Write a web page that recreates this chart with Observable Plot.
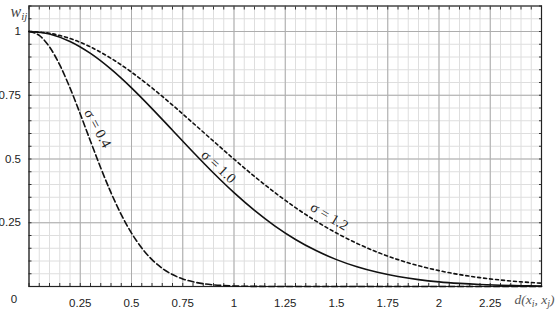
<!DOCTYPE html>
<html>
<head>
<meta charset="utf-8">
<script src="https://cdn.jsdelivr.net/npm/d3@7"></script>
<script src="https://cdn.jsdelivr.net/npm/@observablehq/plot@0.6"></script>
<style>
  html, body { margin: 0; padding: 0; background: #fff; }
  #chart { width: 556px; height: 316px; }
</style>
</head>
<body>
<div id="chart"></div>
<script>
// Distance values d(x_i, x_j)
const d04 = [0,0.05,0.1,0.15,0.2,0.25,0.3,0.35,0.4,0.45,0.5,0.55,0.6,0.65,0.7,0.75,0.8,0.85,0.9,0.95,1.0,1.1,1.2,1.4,1.8,2.2,2.5];
const w04 = [1,0.9845,0.9394,0.8688,0.7788,0.6766,0.5698,0.4650,0.3679,0.2821,0.2096,0.1510,0.1054,0.0713,0.0468,0.0297,0.0183,0.0109,0.0063,0.0036,0.0019,0.0005,0.0001,0,0,0,0];

const d10 = [0,0.1,0.2,0.3,0.4,0.5,0.6,0.7,0.8,0.9,1.0,1.1,1.2,1.3,1.4,1.5,1.6,1.7,1.8,1.9,2.0,2.1,2.2,2.3,2.4,2.5];
const w10 = [1,0.9900,0.9608,0.9139,0.8521,0.7788,0.6977,0.6126,0.5273,0.4449,0.3679,0.2982,0.2369,0.1845,0.1409,0.1054,0.0773,0.0556,0.0392,0.0271,0.0183,0.0122,0.0079,0.0050,0.0032,0.0019];

const d12 = [0,0.1,0.2,0.3,0.4,0.5,0.6,0.7,0.8,0.9,1.0,1.1,1.2,1.3,1.4,1.5,1.6,1.7,1.8,1.9,2.0,2.1,2.2,2.3,2.4,2.5];
const w12 = [1,0.9931,0.9726,0.9394,0.8948,0.8406,0.7788,0.7116,0.6412,0.5698,0.4994,0.4316,0.3679,0.3093,0.2564,0.2096,0.1690,0.1344,0.1054,0.0815,0.0622,0.0468,0.0347,0.0254,0.0183,0.0130];

// Curve annotations
const labelText = ["σ = 0.4", "σ = 1.0", "σ = 1.2"];
const labelD = [0.335, 0.925, 1.465];
const labelW = [0.62, 0.47, 0.275];
const labelAngle = [62, 43, 31];

// Ticks
const xMajor = [0,0.25,0.5,0.75,1,1.25,1.5,1.75,2,2.25,2.5];
const xTickLabels = [0.25,0.5,0.75,1,1.25,1.5,1.75,2,2.25];
const yMajor = [0,0.25,0.5,0.75,1];
const yTickLabels = [0.25,0.5,0.75,1];
const xMinor = d3.range(0, 51).map(i => +(i*0.05).toFixed(2));
const yMinor = d3.range(0, 23).map(i => +(i*0.05).toFixed(2));

const series = [
  ...d04.map((d,i) => ({d, w: w04[i], s: "0.4"})),
  ...d10.map((d,i) => ({d, w: w10[i], s: "1.0"})),
  ...d12.map((d,i) => ({d, w: w12[i], s: "1.2"}))
];
const labels = labelText.map((t,i) => ({t, d: labelD[i], w: labelW[i], a: labelAngle[i]}));

const fmt = v => String(v);
const none = () => "";
const serif = "'Liberation Serif', 'DejaVu Serif', serif";
const sans = "'Liberation Sans', Arial, sans-serif";

const plot = Plot.plot({
  width: 556,
  height: 316,
  marginLeft: 28.5,
  marginRight: 15,
  marginTop: 5.5,
  marginBottom: 30,
  style: {fontFamily: sans, fontSize: "11px", color: "#222", background: "#fff", overflow: "visible"},
  x: {domain: [0, 2.5], axis: null},
  y: {domain: [0, 1.1], axis: null},
  marks: [
    Plot.ruleX(xMinor, {stroke: "#dedede", strokeWidth: 1}),
    Plot.ruleY(yMinor, {stroke: "#dedede", strokeWidth: 1}),
    Plot.ruleX(xMajor, {stroke: "#adadad", strokeWidth: 1}),
    Plot.ruleY(yMajor, {stroke: "#adadad", strokeWidth: 1}),
    Plot.axisX({anchor: "bottom", ticks: xMinor, tickSize: -3, tickFormat: none, label: null, stroke: "#333"}),
    Plot.axisX({anchor: "top", ticks: xMinor, tickSize: -3, tickFormat: none, label: null, stroke: "#333"}),
    Plot.axisY({anchor: "left", ticks: yMinor, tickSize: -3, tickFormat: none, label: null, stroke: "#333"}),
    Plot.axisY({anchor: "right", ticks: yMinor, tickSize: -3, tickFormat: none, label: null, stroke: "#333"}),
    Plot.axisX({anchor: "bottom", ticks: xTickLabels, tickSize: 0, tickPadding: 12, tickFormat: fmt, label: null, fontSize: 11.5}),
    Plot.axisY({anchor: "left", ticks: yTickLabels, tickSize: 0, tickPadding: 8, tickFormat: fmt, label: null, fontSize: 11.5}),
    Plot.text([0], {x: 0, y: 0, text: () => "0", dx: -15, dy: 13, fontSize: 11.5}),
    Plot.frame({stroke: "#222", strokeWidth: 1.2}),
    Plot.line(series.filter(p => p.s === "0.4"), {x: "d", y: "w", stroke: "#111", strokeWidth: 1.6, strokeDasharray: "6,3", curve: "monotone-x"}),
    Plot.line(series.filter(p => p.s === "1.0"), {x: "d", y: "w", stroke: "#111", strokeWidth: 1.6, curve: "monotone-x"}),
    Plot.line(series.filter(p => p.s === "1.2"), {x: "d", y: "w", stroke: "#111", strokeWidth: 1.6, strokeDasharray: "3,3", curve: "monotone-x"}),
    Plot.text(labels, {x: "d", y: "w", text: "t", rotate: "a", fontFamily: serif, fontSize: 14.5, fill: "#222"}),
    Plot.text([0], {x: 2.5, y: 0, text: () => "xlabel", dx: -7, dy: 13, fontFamily: serif, fontStyle: "italic", fontSize: 13.5, fill: "#555", className: "xlab"}),
    Plot.text([0], {x: 0, y: 1.1, text: () => "ylabel", dx: -18.5, dy: 6, fontFamily: serif, fontStyle: "italic", fontSize: 16, fill: "#444", className: "ylab"})
  ]
});

d3.select(plot).selectAll('.xlab text')
  .html('d(x<tspan dy="3" font-size="10">i</tspan><tspan dy="-3">, x</tspan><tspan dy="3" font-size="10">j</tspan><tspan dy="-3">)</tspan>');
d3.select(plot).selectAll('.ylab text')
  .attr("text-anchor", "start")
  .html('w<tspan dy="3" font-size="11">ij</tspan>');

document.getElementById("chart").appendChild(plot);
</script>
</body>
</html>
